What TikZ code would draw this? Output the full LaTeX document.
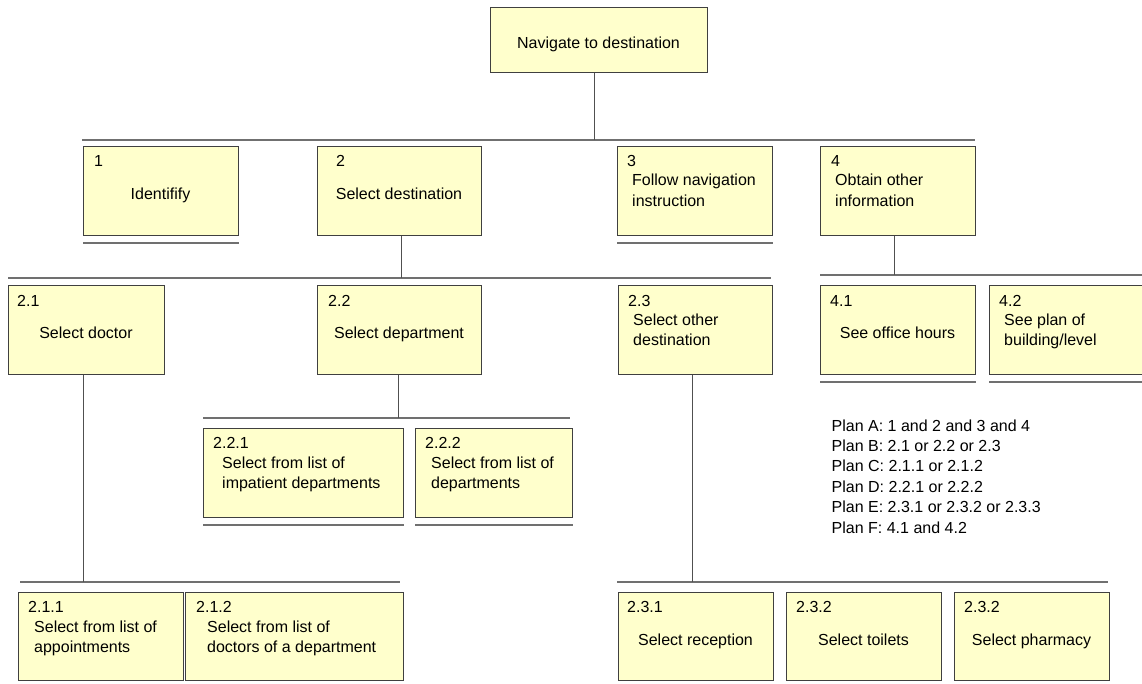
\documentclass[tikz,border=0pt]{standalone}
\usepackage{fontspec}
\setmainfont{Liberation Sans}
\definecolor{taskfill}{HTML}{FFFFCC}
\definecolor{boxline}{HTML}{404040}
\definecolor{barline}{HTML}{707070}
\definecolor{linkline}{HTML}{505050}
\tikzset{
  task/.style={draw=boxline, fill=taskfill, line width=1pt, anchor=north west, inner sep=0pt, minimum height=89pt},
  num/.style={anchor=base west, inner sep=0pt},
  txt/.style={anchor=base west, inner sep=0pt, align=left},
  mid/.style={anchor=base, inner sep=0pt},
  bar/.style={draw=barline, line width=1.5pt},
  link/.style={draw=linkline, line width=1pt},
}
\begin{document}
\begin{tikzpicture}[x=1pt, y=-1pt, font=\fontsize{16}{20.4}\selectfont]
    \useasboundingbox (0,0) rectangle (1142,684);

    % Root
    \node[task, minimum width=217, minimum height=65] (top) at (490,7) {};
    \node[mid] (topt) at (598.5,49) {Navigate to destination};

    % Level 1 (two-line texts are placed by their last line)
    \node[task, minimum width=155] (b1) at (83,146) {};
    \node[num] (b1n) at (94,167) {1};
    \node[mid] (b1t) at (160.5,200) {Identifify};
    \node[task, minimum width=164] (b2) at (317,146) {};
    \node[num] (b2n) at (336,167) {2};
    \node[mid] (b2t) at (399,200) {Select destination};
    \node[task, minimum width=155] (b3) at (617,146) {};
    \node[num] (b3n) at (627,167) {3};
    \node[txt] (b3t) at (632,206.4) {Follow navigation\\instruction};
    \node[task, minimum width=155] (b4) at (820,146) {};
    \node[num] (b4n) at (831,167) {4};
    \node[txt] (b4t) at (835,206.4) {Obtain other\\information};

    % Level 2
    \node[task, minimum width=156] (b21) at (8,285) {};
    \node[num] (b21n) at (17,306) {2.1};
    \node[mid] (b21t) at (86,338) {Select doctor};
    \node[task, minimum width=164] (b22) at (317,285) {};
    \node[num] (b22n) at (328,306) {2.2};
    \node[mid] (b22t) at (399,338) {Select department};
    \node[task, minimum width=154] (b23) at (618,285) {};
    \node[num] (b23n) at (628,306) {2.3};
    \node[txt] (b23t) at (633,345.4) {Select other\\destination};
    \node[task, minimum width=155] (b41) at (820,285) {};
    \node[num] (b41n) at (830,306) {4.1};
    \node[mid] (b41t) at (897.5,338) {See office hours};
    \node[task, minimum width=160] (b42) at (989,285) {};
    \node[num] (b42n) at (999,306) {4.2};
    \node[txt] (b42t) at (1004,345.4) {See plan of\\building/level};

    % Level 3
    \node[task, minimum width=200] (b221) at (203,428) {};
    \node[num] (b221n) at (213,448) {2.2.1};
    \node[txt] (b221t) at (222,488.4) {Select from list of\\impatient departments};
    \node[task, minimum width=157] (b222) at (415,428) {};
    \node[num] (b222n) at (425,448) {2.2.2};
    \node[txt] (b222t) at (431,488.4) {Select from list of\\departments};

    % Level 4
    \node[task, minimum width=165, minimum height=88] (b211) at (18,592) {};
    \node[num] (b211n) at (28,612) {2.1.1};
    \node[txt] (b211t) at (34,652.4) {Select from list of\\appointments};
    \node[task, minimum width=218, minimum height=88] (b212) at (185,592) {};
    \node[num] (b212n) at (196,612) {2.1.2};
    \node[txt] (b212t) at (207,652.4) {Select from list of\\doctors of a department};
    \node[task, minimum width=155, minimum height=88] (b231) at (618,592) {};
    \node[num] (b231n) at (627,612) {2.3.1};
    \node[mid] (b231t) at (695.5,645) {Select reception};
    \node[task, minimum width=155, minimum height=88] (b232) at (786,592) {};
    \node[num] (b232n) at (796,612) {2.3.2};
    \node[mid] (b232t) at (863.5,645) {Select toilets};
    \node[task, minimum width=155, minimum height=88] (b233) at (954,592) {};
    \node[num] (b233n) at (964,612) {2.3.2};
    \node[mid] (b233t) at (1031.5,645) {Select pharmacy};

    % Bars and links
    \coordinate (bar1w) at (82,140);   \coordinate (bar1e) at (975,140);
    \coordinate (bar2w) at (8,278);    \coordinate (bar2e) at (771,278);
    \coordinate (bar4w) at (820,275);  \coordinate (bar4e) at (1142,275);
    \coordinate (bar21w) at (20,582);  \coordinate (bar21e) at (400,582);
    \coordinate (bar22w) at (203,418); \coordinate (bar22e) at (570,418);
    \coordinate (bar23w) at (617,582); \coordinate (bar23e) at (1108,582);
    \draw[bar] (bar1w) -- (bar1e);
    \draw[bar] (bar2w) -- (bar2e);
    \draw[bar] (bar4w) -- (bar4e);
    \draw[bar] (bar21w) -- (bar21e);
    \draw[bar] (bar22w) -- (bar22e);
    \draw[bar] (bar23w) -- (bar23e);
    \coordinate (j1) at (594,140);
    \coordinate (j2) at (401,278);
    \coordinate (j4) at (894,275);
    \coordinate (j21) at (83,582);
    \coordinate (j22) at (398.5,418);
    \coordinate (j23) at (692,582);
    \draw[link] (j1) -- (j1 |- top.south);
    \draw[link] (j2) -- (j2 |- b2.south);
    \draw[link] (j4) -- (j4 |- b4.south);
    \draw[link] (j21) -- (j21 |- b21.south);
    \draw[link] (j22) -- (j22 |- b22.south);
    \draw[link] (j23) -- (j23 |- b23.south);

    % Underlines of leaf tasks
    \foreach \b in {b1,b3,b41,b42,b221,b222}
        \draw[bar] ([yshift=-7]\b.south west) -- ([yshift=-7]\b.south east);

    % Plans
    \foreach \t [count=\i] in {Plan A: 1 and 2 and 3 and 4, Plan B: 2.1 or 2.2 or 2.3,
        Plan C: 2.1.1 or 2.1.2, Plan D: 2.2.1 or 2.2.2,
        Plan E: 2.3.1 or 2.3.2 or 2.3.3, Plan F: 4.1 and 4.2}
        \node[num] (plan\i) at (831.5,{431+20.4*(\i-1)}) {\t};
\end{tikzpicture}
\end{document}
